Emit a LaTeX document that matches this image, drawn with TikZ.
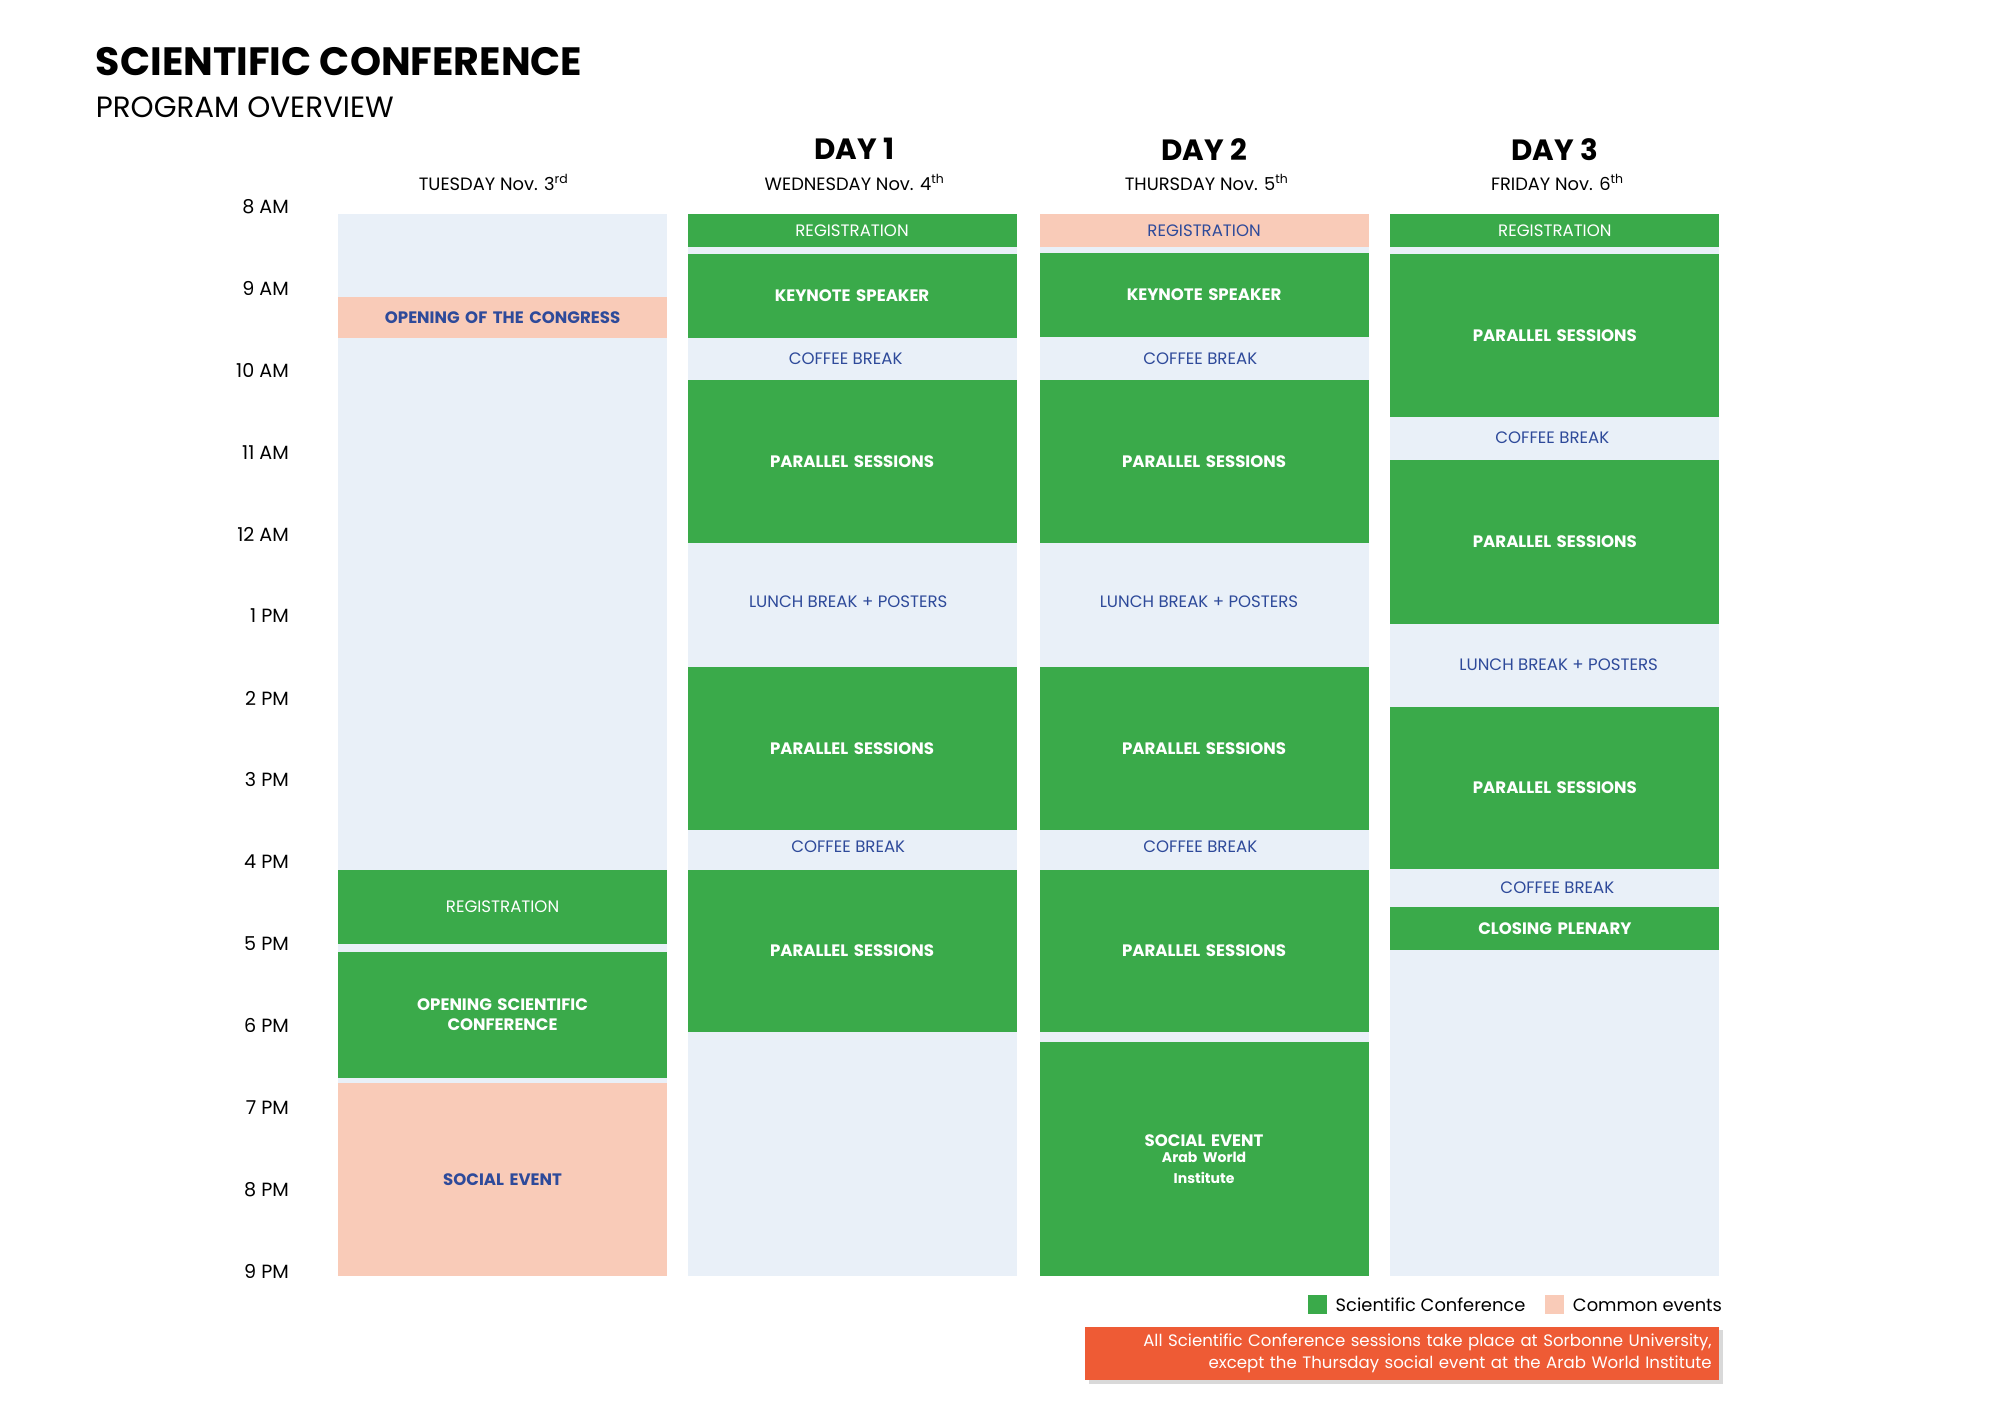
\documentclass[tikz,border=0pt]{standalone}
\usepackage{fontspec}
\setmainfont{Poppins}
\usetikzlibrary{shadows}
\definecolor{grn}{HTML}{3AAA4A}
\definecolor{pnk}{HTML}{F9CBB8}
\definecolor{bgc}{HTML}{E9F0F8}
\definecolor{blu}{HTML}{2E4A9A}
\definecolor{org}{HTML}{EE5B35}
\newcommand\blk[6]{\node[#5,minimum height={(#4-#3)*1pt}] (#1) at (#2,{(#3+#4)/2}) {#6};}
\begin{document}
\begin{tikzpicture}[x=1pt,y=-1pt,
 box/.style={inner sep=0pt,minimum width=258pt,align=center,text width=250pt},
 g/.style={box,fill=grn,text=white,font=\fontsize{13}{16}\selectfont\bfseries},
 gl/.style={box,fill=grn,text=white,font=\fontsize{13}{16}\selectfont},
 p/.style={box,fill=pnk,text=blu,font=\fontsize{13}{16}\selectfont\bfseries},
 pl/.style={box,fill=pnk,text=blu,font=\fontsize{13}{16}\selectfont},
 bg/.style={box,fill=bgc},
 lt/.style={text=blu,font=\fontsize{13}{16}\selectfont},
 tm/.style={anchor=east,font=\fontsize{15}{18}\selectfont},
 day/.style={font=\fontsize{23}{26}\selectfont\bfseries},
 sub/.style={font=\fontsize{14}{17}\selectfont}]
\useasboundingbox (0,0) rectangle (1568,1108);
\node[anchor=west,font=\fontsize{31}{36}\selectfont\bfseries,inner sep=0] (title) at (75,48) {SCIENTIFIC CONFERENCE};
\node[anchor=west,font=\fontsize{23}{28}\selectfont,inner sep=0] (subt) at (75,84) {PROGRAM OVERVIEW};
% headers
\node[sub] (h0) at (387,143) {TUESDAY Nov. 3\textsuperscript{rd}};
\node[day] (d1) at (670,117) {DAY 1};
\node[sub] (h1) at (670,143) {WEDNESDAY Nov. 4\textsuperscript{th}};
\node[day] (d2) at (944,117) {DAY 2};
\node[sub] (h2) at (946,143) {THURSDAY Nov. 5\textsuperscript{th}};
\node[day] (d3) at (1219,117) {DAY 3};
\node[sub] (h3) at (1221,143) {FRIDAY Nov. 6\textsuperscript{th}};
% times
\foreach \t [count=\i from 0] in {8 AM,9 AM,10 AM,11 AM,12 AM,1 PM,2 PM,3 PM,4 PM,5 PM,6 PM,7 PM,8 PM,9 PM}
  \node[tm] (t\i) at (230,{162+64.2*\i}) {\t};
% backgrounds
\blk{b0}{394}{168}{1000}{bg}{}
\blk{b1}{668}{168}{1000}{bg}{}
\blk{b2}{944}{168}{1000}{bg}{}
\blk{b3}{1219}{168}{1000}{bg}{}
% Tuesday
\blk{a1}{394}{233}{265}{p}{OPENING OF THE CONGRESS}
\blk{a2}{394}{682}{740}{gl}{REGISTRATION}
\blk{a3}{394}{746}{845}{g}{OPENING SCIENTIFIC\\CONFERENCE}
\blk{a4}{394}{849}{1000}{p}{SOCIAL EVENT}
% Day 1
\blk{w1}{668}{168}{194}{gl}{REGISTRATION}
\blk{w2}{668}{199}{265}{g}{KEYNOTE SPEAKER}
\node[lt] (w3) at (663,281) {COFFEE BREAK};
\blk{w4}{668}{298}{426}{g}{PARALLEL SESSIONS}
\node[lt] (w5) at (665,472) {LUNCH BREAK + POSTERS};
\blk{w6}{668}{523}{651}{g}{PARALLEL SESSIONS}
\node[lt] (w7) at (665,664) {COFFEE BREAK};
\blk{w8}{668}{682}{809}{g}{PARALLEL SESSIONS}
% Day 2
\blk{r1}{944}{168}{194}{pl}{REGISTRATION}
\blk{r2}{944}{198}{264}{g}{KEYNOTE SPEAKER}
\node[lt] (r3) at (941,281) {COFFEE BREAK};
\blk{r4}{944}{298}{426}{g}{PARALLEL SESSIONS}
\node[lt] (r5) at (940,472) {LUNCH BREAK + POSTERS};
\blk{r6}{944}{523}{651}{g}{PARALLEL SESSIONS}
\node[lt] (r7) at (941,664) {COFFEE BREAK};
\blk{r8}{944}{682}{809}{g}{PARALLEL SESSIONS}
\blk{r9}{944}{817}{1000}{g}{SOCIAL EVENT\\[-1pt]{\fontsize{11}{14}\selectfont Arab World\\Institute}}
% Day 3
\blk{f1}{1219}{168}{194}{gl}{REGISTRATION}
\blk{f2}{1219}{199}{327}{g}{PARALLEL SESSIONS}
\node[lt] (f3) at (1217,343) {COFFEE BREAK};
\blk{f4}{1219}{361}{489}{g}{PARALLEL SESSIONS}
\node[lt] (f5) at (1222,521) {LUNCH BREAK + POSTERS};
\blk{f6}{1219}{554}{681}{g}{PARALLEL SESSIONS}
\node[lt] (f7) at (1221,696) {COFFEE BREAK};
\blk{f8}{1219}{711}{745}{g}{CLOSING PLENARY}
% legend
\node[fill=grn,minimum size=15pt,inner sep=0] (lg1) at (1033,1023) {};
\node[anchor=west,font=\fontsize{14}{17}\selectfont,inner sep=0] (lt1) at (1047,1023) {Scientific Conference};
\node[fill=pnk,minimum size=15pt,inner sep=0] (lg2) at (1219,1023) {};
\node[anchor=west,font=\fontsize{14}{17}\selectfont,inner sep=0] (lt2) at (1233,1023) {Common events};
\node[fill=org,text=white,drop shadow={shadow xshift=3pt,shadow yshift=-3pt,opacity=0.3},minimum width=497pt,minimum height=42pt,align=right,inner sep=0,text width=485pt,font=\fontsize{13}{18}\selectfont] (note) at (1099.5,1061) {All Scientific Conference sessions take place at Sorbonne University,\\except the Thursday social event at the Arab World Institute};
\end{tikzpicture}
\end{document}
